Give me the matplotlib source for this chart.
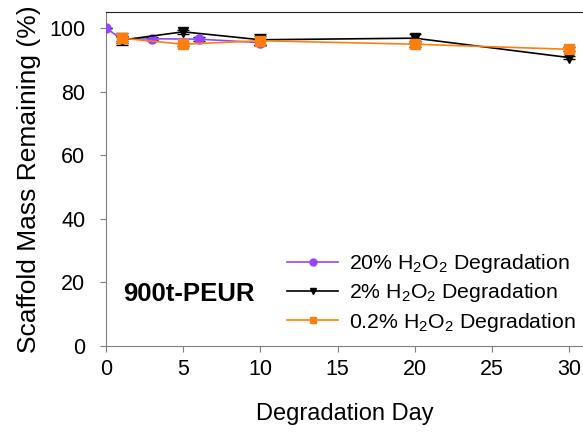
import matplotlib
matplotlib.use("Agg")
import matplotlib.pyplot as plt
from matplotlib.lines import Line2D

plt.rcParams['font.family'] = ['Liberation Sans', 'DejaVu Sans']
plt.rcParams['mathtext.fontset'] = 'custom'
plt.rcParams['mathtext.rm'] = 'Liberation Sans'

days_20 = [0, 1, 3, 6, 10]
mass_20 = [100.0, 96.5, 96.6, 96.5, 95.4]
err_20 = [0.0, 0.6, 0.5, 0.6, 0.8]

days_2 = [1, 5, 10, 20, 30]
mass_2 = [96.2, 98.8, 96.3, 96.8, 90.7]
err_2 = [1.4, 0.7, 1.8, 1.4, 0.6]

days_02 = [1, 5, 10, 20, 30]
mass_02 = [96.8, 94.9, 96.0, 94.9, 93.3]
err_02 = [1.5, 0.5, 1.5, 1.0, 0.6]

labels = [r'20% H$_2$O$_2$ Degradation',
          r'2% H$_2$O$_2$ Degradation',
          r'0.2% H$_2$O$_2$ Degradation']
colors = ['#9446FF', 'black', '#FF7F0E']
markers = ['o', 'v', 's']

fig = plt.figure(figsize=(5.83, 4.32), dpi=100)
ax = fig.add_axes([0.182, 0.199, 0.818, 0.773])

ax.errorbar(days_20, mass_20, yerr=err_20, color=colors[0], marker=markers[0], markersize=6.5,
            lw=1.2, ecolor='black', elinewidth=1, capsize=4, zorder=3)
ax.errorbar(days_2, mass_2, yerr=err_2, color=colors[1], marker=markers[1], markersize=7,
            lw=1.2, ecolor='black', elinewidth=1, capsize=4, zorder=4)
ax.errorbar(days_02, mass_02, yerr=err_02, color=colors[2], marker=markers[2], markersize=6.5,
            lw=1.2, ecolor='black', elinewidth=1, capsize=4, zorder=5)

ax.set_xlim(0, 30.9)
ax.set_ylim(0, 105)
ax.set_xticks([0, 5, 10, 15, 20, 25, 30])
ax.set_yticks([0, 20, 40, 60, 80, 100])
ax.tick_params(axis='both', labelsize=15.5, direction='out', length=4, color='#808080')
ax.tick_params(axis='x', pad=5)
ax.tick_params(axis='y', pad=11)
ax.spines['left'].set_color('#808080')
ax.spines['bottom'].set_color('#808080')
ax.spines['top'].set_color('#222222')
ax.spines['right'].set_visible(False)

ax.set_xlabel('Degradation Day', fontsize=17, labelpad=17)
ax.set_ylabel('Scaffold Mass Remaining (%)', fontsize=19, labelpad=6)

ax.text(1.1, 16.4, '900t-PEUR', fontsize=18.5, fontweight='bold', va='center', ha='left')

handles = [Line2D([0], [0], color=c, marker=m, markersize=5, lw=1.2) for c, m in zip(colors, markers)]
leg = fig.legend(handles, labels, loc='upper left', bbox_to_anchor=(287 / 583, 1 - 252 / 432),
                 frameon=False, fontsize=15.3, handlelength=2.4, labelspacing=0.3,
                 handletextpad=0.5, borderpad=0, borderaxespad=0)

fig.savefig('out.png', dpi=100)
